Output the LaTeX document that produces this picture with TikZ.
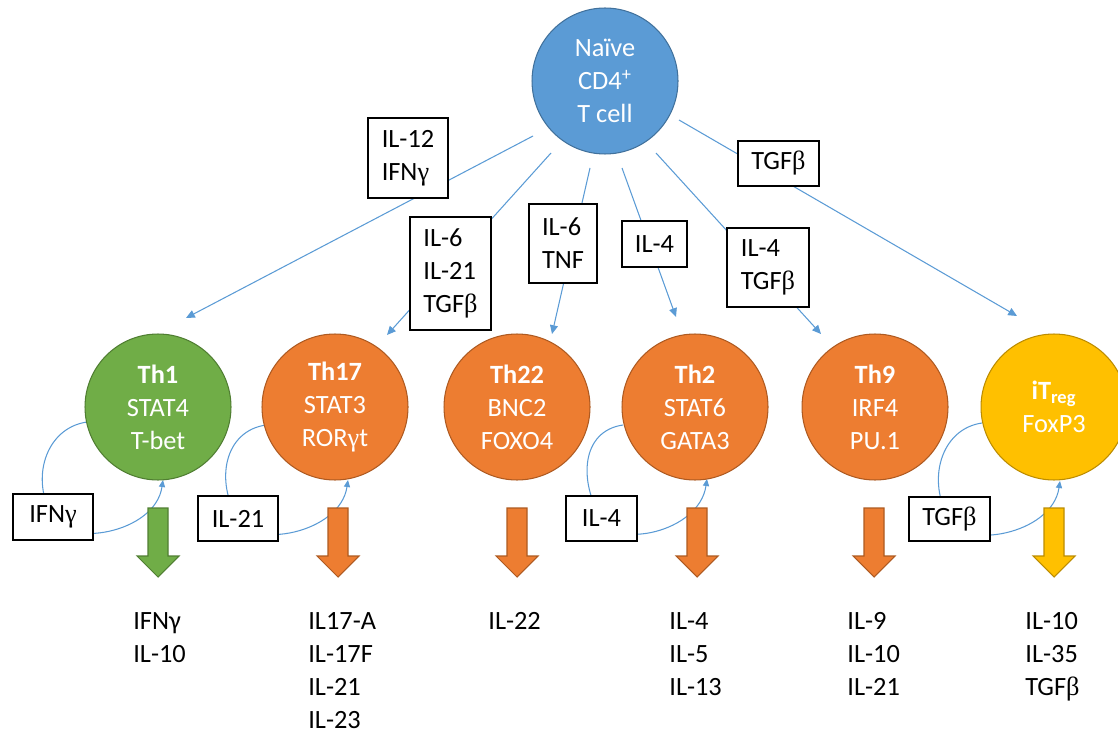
\documentclass[tikz,border=0pt]{standalone}
\usepackage{fontspec}
\setmainfont{Carlito}
\newfontfamily\greeksymfont{Liberation Serif}
\usetikzlibrary{calc,arrows.meta,backgrounds}
\definecolor{cellblue}{HTML}{5B9BD5}
\definecolor{cellblueline}{HTML}{41719C}
\definecolor{thgreen}{HTML}{70AD47}
\definecolor{thgreenline}{HTML}{507E32}
\definecolor{thorange}{HTML}{ED7D31}
\definecolor{thorangeline}{HTML}{AE5A21}
\definecolor{tregyellow}{HTML}{FFC000}
\definecolor{tregyellowline}{HTML}{BC8C00}
\definecolor{linkblue}{HTML}{5B9BD5}
\newcommand{\bodyfont}{\fontsize{15}{18.8}\selectfont}
\newcommand{\sbet}{{\greeksymfont β}}
\newcommand{\sgam}{{\greeksymfont γ}}

\begin{document}
\begin{tikzpicture}[x=0.02cm,y=-0.02cm,
  cell/.style={circle,minimum size=2.92cm,inner sep=0pt,line width=0.6pt,text=white,align=center,font=\bodyfont},
  cyto/.style={draw,line width=0.7pt,fill=white,align=left,inner sep=0pt,font=\bodyfont},
  flow/.style={draw=linkblue,line width=0.6pt,-{Triangle[length=5pt,width=4.5pt]}},
  feedback/.style={draw=linkblue,line width=0.6pt,-{Triangle[length=4pt,width=3.5pt]}},
  outarrow/.style={line width=0.6pt},
  outtxt/.style={anchor=north west,inner sep=0pt,align=left,font=\bodyfont}]
\clip (0,0) rectangle (1118,733);
\node[cell,fill=cellblue,draw=cellblueline] (naive) at (605,81) {Naïve\\CD4\textsuperscript{+}\\T cell};
\node[cell,fill=thgreen,draw=thgreenline] (th1) at (158,407) {\textbf{Th1}\\STAT4\\T-bet};
\node[cell,fill=thorange,draw=thorangeline] (th17) at (335,407) {\textbf{Th17}\\STAT3\\ROR\sgam t};
\node[cell,fill=thorange,draw=thorangeline] (th22) at (517,407) {\textbf{Th22}\\BNC2\\FOXO4};
\node[cell,fill=thorange,draw=thorangeline] (th2) at (695,407) {\textbf{Th2}\\STAT6\\GATA3};
\node[cell,fill=thorange,draw=thorangeline] (th9) at (875,407) {\textbf{Th9}\\IRF4\\PU.1};
\node[cell,fill=tregyellow,draw=tregyellowline] (treg) at (1054,407) {\textbf{iT\textsubscript{reg}}\\FoxP3};
\draw[flow] ($(naive)+(-72,55)$) -- ($(th1)+(28,-89)$);
\draw[flow] ($(naive)+(-54,72)$) -- ($(th17)+(52,-72)$);
\draw[flow] ($(naive)+(-15,87)$) -- ($(th22)+(35,-73)$);
\draw[flow] ($(naive)+(17,87)$) -- ($(th2)+(-19,-90)$);
\draw[flow] ($(naive)+(51,72)$) -- ($(th9)+(-54,-73)$);
\draw[flow] ($(naive)+(74,39)$) -- ($(treg)+(-37,-91)$);
\node[cyto,minimum width=1.6cm,minimum height=1.6cm] (il12) at (408,158) {IL-12\\IFN\sgam};
\node[cyto,minimum width=1.62cm,minimum height=0.9cm] (tgfreg) at (778.5,163.5) {TGF\sbet};
\node[cyto,minimum width=1.62cm,minimum height=2.26cm] (il6th17) at (450.5,273.5) {IL-6\\IL-21\\TGF\sbet};
\node[cyto,minimum width=1.36cm,minimum height=1.58cm] (il6th22) at (563,243.5) {IL-6\\TNF};
\node[cyto,minimum width=1.3cm,minimum height=0.92cm] (il4th2) at (654.5,244) {IL-4};
\node[cyto,minimum width=1.64cm,minimum height=1.58cm] (il4th9) at (768,267.5) {IL-4\\TGF\sbet};
\node[cyto,minimum width=1.6cm,minimum height=0.92cm] (fb1) at (53,517) {IFN\sgam};
\node[cyto,minimum width=1.6cm,minimum height=0.9cm] (fb17) at (238,518.5) {IL-21};
\node[cyto,minimum width=1.42cm,minimum height=0.9cm] (fb2) at (601.5,518.5) {IL-4};
\node[cyto,minimum width=1.62cm,minimum height=0.88cm] (fbreg) at (949.5,519) {TGF\sbet};
\begin{scope}[on background layer]
\draw[feedback] ($(th1)+(-71,15)$) .. controls +(-42,6) and +(-23,-37) .. (fb1.center) .. controls +(12,31) and +(-8,54) .. ($(th1)+(5,73)$);
\draw[feedback] ($(th17)+(-69,18)$) .. controls +(-42,6) and +(-23,-37) .. (fb17.center) .. controls +(12,31) and +(-8,54) .. ($(th17)+(13,73)$);
\draw[feedback] ($(th2)+(-72,18)$) .. controls +(-42,6) and +(-23,-37) .. (fb2.center) .. controls +(12,31) and +(-8,54) .. ($(th2)+(12,72)$);
\draw[feedback] ($(treg)+(-72,16)$) .. controls +(-42,6) and +(-23,-37) .. (fbreg.center) .. controls +(12,31) and +(-8,54) .. ($(treg)+(6,74)$);
\end{scope}
\filldraw[outarrow,fill=thgreen,draw=thgreenline] ($(th1)+(-10,101)$) -- ++(20,0) -- ++(0,48) -- ++(11,0) -- ++(-21,21) -- ++(-21,-21) -- ++(11,0) -- cycle;
\filldraw[outarrow,fill=thorange,draw=thorangeline] ($(th17)+(-7,101)$) -- ++(20,0) -- ++(0,48) -- ++(11,0) -- ++(-21,21) -- ++(-21,-21) -- ++(11,0) -- cycle;
\filldraw[outarrow,fill=thorange,draw=thorangeline] ($(th22)+(-10,101)$) -- ++(20,0) -- ++(0,48) -- ++(11,0) -- ++(-21,21) -- ++(-21,-21) -- ++(11,0) -- cycle;
\filldraw[outarrow,fill=thorange,draw=thorangeline] ($(th2)+(-8,101)$) -- ++(20,0) -- ++(0,48) -- ++(11,0) -- ++(-21,21) -- ++(-21,-21) -- ++(11,0) -- cycle;
\filldraw[outarrow,fill=thorange,draw=thorangeline] ($(th9)+(-11,101)$) -- ++(20,0) -- ++(0,48) -- ++(11,0) -- ++(-21,21) -- ++(-21,-21) -- ++(11,0) -- cycle;
\filldraw[outarrow,fill=tregyellow,draw=tregyellowline] ($(treg)+(-10,101)$) -- ++(20,0) -- ++(0,48) -- ++(11,0) -- ++(-21,21) -- ++(-21,-21) -- ++(11,0) -- cycle;
\node[outtxt] (out1) at (133,612) {IFNγ\\IL-10};
\node[outtxt] (out17) at (308,612) {IL17-A\\IL-17F\\IL-21\\IL-23};
\node[outtxt] (out22) at (488,612) {IL-22};
\node[outtxt] (out2) at (669,612) {IL-4\\IL-5\\IL-13};
\node[outtxt] (out9) at (847,612) {IL-9\\IL-10\\IL-21};
\node[outtxt] (outreg) at (1025,612) {IL-10\\IL-35\\TGF\sbet};
\end{tikzpicture}
\end{document}
